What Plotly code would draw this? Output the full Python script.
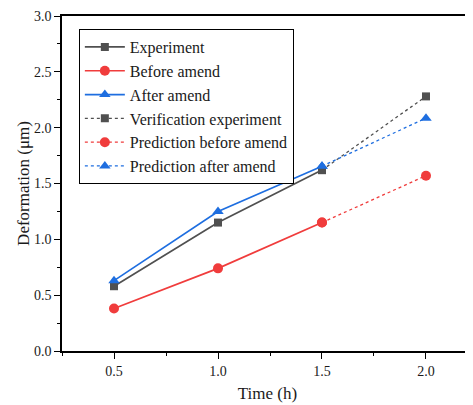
import plotly.graph_objects as go

time_main = [0.5, 1.0, 1.5]
time_pred = [1.5, 2.0]
experiment = [0.58, 1.15, 1.62]
before_amend = [0.38, 0.74, 1.15]
after_amend = [0.63, 1.25, 1.655]
verification = [1.62, 2.28]
pred_before = [1.15, 1.57]
pred_after = [1.655, 2.085]
x_ticks = [0.5, 1.0, 1.5, 2.0]
y_ticks = [0.0, 0.5, 1.0, 1.5, 2.0, 2.5, 3.0]

GRAY = "#505050"
RED = "#f03c3c"
BLUE = "#1e6ee0"
FONT = "Liberation Serif, Times New Roman, serif"
TXT = "#1a1a1a"

fig = go.Figure()
specs = [
    ("Experiment", time_main, experiment, GRAY, "solid", "square", 8),
    ("Before amend", time_main, before_amend, RED, "solid", "circle", 10),
    ("After amend", time_main, after_amend, BLUE, "solid", "triangle-up", 10),
    ("Verification experiment", time_pred, verification, GRAY, "dot", "square", 8),
    ("Prediction before amend", time_pred, pred_before, RED, "dot", "circle", 10),
    ("Prediction after amend", time_pred, pred_after, BLUE, "dot", "triangle-up", 10),
]
for name, xs, ys, col, dash, sym, sz in specs:
    fig.add_trace(go.Scatter(
        x=xs, y=ys, name=name, mode="lines+markers",
        line=dict(color=col, width=1.7 if dash == "solid" else 1.3, dash=dash),
        marker=dict(color=col, symbol=sym, size=sz),
    ))

fig.update_layout(
    width=465, height=397,
    margin=dict(l=54, r=0, t=8, b=54),
    paper_bgcolor="white", plot_bgcolor="white",
    font=dict(family=FONT, size=14, color=TXT),
    showlegend=True,
    legend=dict(
        x=0.041, y=0.961, xanchor="left", yanchor="top",
        bordercolor="black", borderwidth=1, bgcolor="white",
        font=dict(family=FONT, size=16, color=TXT),
        tracegroupgap=0, itemwidth=40,
    ),
    xaxis=dict(
        range=[0.25, 2.226], tickvals=x_ticks, ticktext=[f"{v:.1f}" for v in x_ticks],
        showgrid=False, zeroline=False, showline=True, linecolor="black", linewidth=1.5,
        mirror=True, ticks="outside", ticklen=6, tickwidth=1.2, tickcolor="black",
        minor=dict(dtick=0.25, tick0=0.25, ticks="outside", ticklen=3, tickcolor="black", tickwidth=1),
        title=dict(text="Time (h)", font=dict(family=FONT, size=17, color=TXT), standoff=10),
        tickfont=dict(family=FONT, size=14, color=TXT),
    ),
    yaxis=dict(
        range=[0, 3.0], tickvals=y_ticks, ticktext=[f"{v:.1f}" for v in y_ticks],
        showgrid=False, zeroline=False, showline=True, linecolor="black", linewidth=1.5,
        mirror=False, ticks="outside", ticklen=6, tickwidth=1.2, tickcolor="black",
        minor=dict(dtick=0.25, tick0=0, ticks="outside", ticklen=3, tickcolor="black", tickwidth=1),
        title=dict(text="Deformation (μm)", font=dict(family=FONT, size=17, color=TXT), standoff=0),
        tickfont=dict(family=FONT, size=14, color=TXT),
    ),
)

fig.write_html("out.html")
